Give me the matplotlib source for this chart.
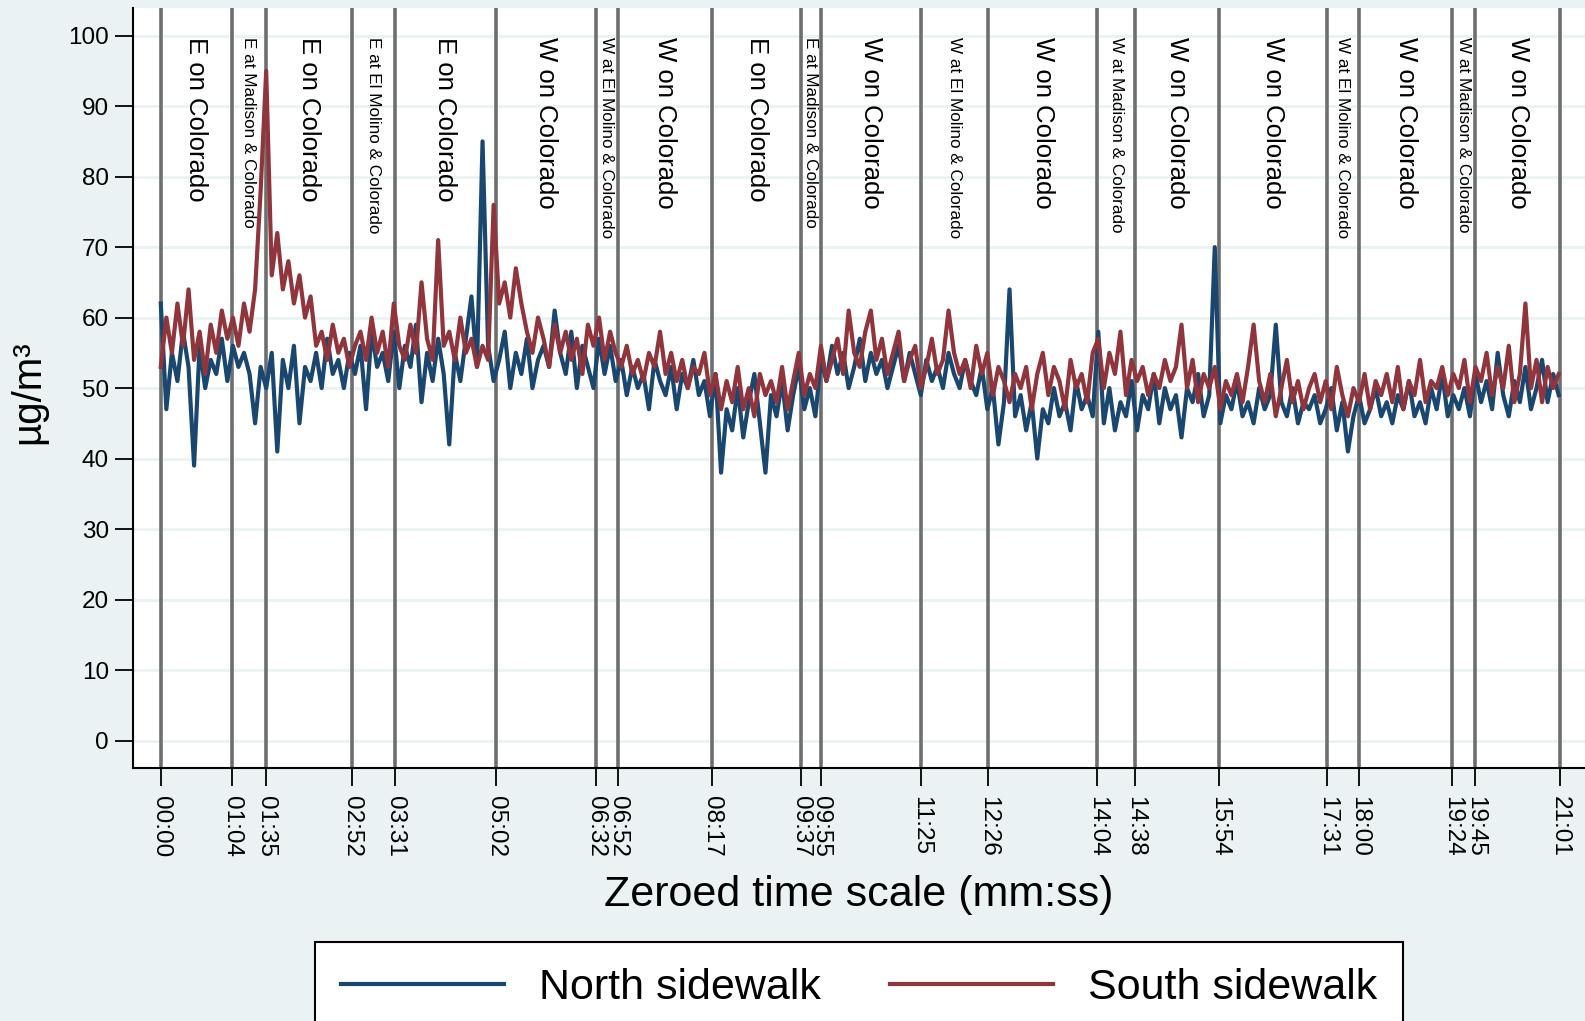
import numpy as np
import matplotlib
matplotlib.use("Agg")
import matplotlib.pyplot as plt

plt.rcParams['font.family'] = ['Liberation Sans', 'DejaVu Sans']

# event times (seconds) and their tick labels
event_secs = [0, 64, 95, 172, 211, 302, 392, 412, 497, 577, 595, 685, 746,
              844, 878, 954, 1051, 1080, 1164, 1185, 1261]
event_labels = ["00:00", "01:04", "01:35", "02:52", "03:31", "05:02", "06:32",
                "06:52", "08:17", "09:37", "09:55", "11:25", "12:26", "14:04",
                "14:38", "15:54", "17:31", "18:00", "19:24", "19:45", "21:01"]

# what the walker was doing between two events
segments = ["E on Colorado", "E at Madison & Colorado", "E on Colorado",
            "E at El Molino & Colorado", "E on Colorado", "W on Colorado",
            "W at El Molino & Colorado", "W on Colorado", "E on Colorado",
            "E at Madison & Colorado", "W on Colorado", "W at El Molino & Colorado",
            "W on Colorado", "W at Madison & Colorado", "W on Colorado",
            "W on Colorado", "W at El Molino & Colorado", "W on Colorado",
            "W at Madison & Colorado", "W on Colorado"]

# PM readings, one every 5 s
north = [62, 47, 55, 51, 58, 53, 39, 56, 50, 54, 52, 57, 51,
         56, 53, 55, 52, 45, 53, 50, 55, 41, 54, 50, 56, 45,
         53, 51, 55, 50, 57, 52, 54, 50, 55, 52, 56, 47, 58,
         53, 55, 51, 58, 50, 56, 53, 59, 48, 55, 51, 57, 52,
         42, 55, 51, 57, 63, 53, 85, 56, 51, 54, 58, 50, 55,
         52, 57, 50, 54, 56, 53, 61, 55, 52, 58, 50, 56, 53,
         50, 57, 52, 56, 51, 54, 49, 53, 50, 52, 47, 54, 51,
         49, 53, 47, 52, 50, 54, 49, 51, 46, 52, 38, 47, 44,
         50, 43, 48, 52, 45, 38, 49, 46, 51, 44, 49, 53, 47,
         50, 46, 54, 51, 56, 52, 55, 50, 53, 57, 51, 55, 52,
         54, 50, 53, 56, 51, 55, 52, 49, 54, 51, 53, 50, 55,
         52, 50, 54, 51, 49, 53, 47, 50, 42, 48, 64, 46, 49,
         44, 48, 40, 47, 45, 50, 46, 48, 44, 51, 47, 49, 46,
         58, 45, 50, 44, 48, 46, 51, 44, 49, 47, 52, 45, 50,
         47, 49, 43, 50, 48, 52, 46, 49, 70, 45, 49, 47, 51,
         46, 48, 45, 50, 47, 49, 59, 48, 46, 50, 45, 48, 47,
         49, 45, 47, 50, 44, 48, 41, 46, 49, 45, 47, 50, 46,
         48, 45, 49, 47, 51, 46, 48, 45, 50, 47, 52, 46, 49,
         47, 50, 46, 52, 48, 51, 47, 55, 49, 46, 51, 48, 53,
         47, 50, 54, 48, 52, 49]

south = [53, 60, 55, 62, 56, 64, 54, 58, 52, 59, 55, 61, 57,
         60, 56, 62, 58, 64, 78, 95, 66, 72, 64, 68, 62, 66,
         60, 63, 56, 58, 54, 59, 55, 57, 53, 56, 58, 54, 60,
         55, 58, 53, 62, 56, 54, 59, 55, 65, 57, 54, 71, 56,
         58, 54, 60, 55, 57, 53, 56, 54, 76, 62, 65, 60, 67,
         62, 58, 55, 60, 57, 53, 59, 55, 58, 54, 57, 52, 59,
         56, 60, 54, 58, 55, 53, 56, 52, 54, 51, 55, 53, 58,
         52, 55, 51, 54, 50, 53, 52, 55, 49, 52, 47, 51, 48,
         53, 47, 50, 46, 52, 49, 51, 48, 53, 47, 51, 55, 49,
         52, 50, 56, 51, 54, 57, 52, 61, 55, 53, 58, 61, 54,
         57, 52, 55, 58, 51, 54, 56, 50, 53, 57, 52, 54, 61,
         55, 52, 54, 50, 56, 52, 55, 49, 53, 51, 48, 52, 50,
         53, 47, 52, 55, 49, 53, 51, 47, 54, 50, 52, 48, 55,
         57, 50, 55, 52, 58, 49, 54, 51, 53, 49, 52, 50, 54,
         51, 53, 59, 50, 54, 48, 52, 50, 53, 47, 51, 49, 52,
         48, 53, 59, 51, 48, 52, 46, 50, 54, 48, 51, 47, 50,
         52, 48, 51, 47, 53, 49, 46, 50, 48, 52, 47, 51, 49,
         52, 48, 53, 47, 51, 49, 54, 48, 51, 50, 53, 49, 52,
         50, 54, 48, 53, 51, 55, 49, 53, 50, 56, 48, 52, 62,
         50, 54, 48, 53, 50, 52]

BG = '#EAF2F3'
NAVY = '#1A476F'
MAROON = '#90353B'

t = np.arange(len(north)) * 5

fig = plt.figure(figsize=(15.85, 10.21), dpi=100, facecolor=BG)
ax = fig.add_axes([0.0836, 0.2478, 1 - 0.0836, 0.992 - 0.2478])
ax.set_facecolor('white')

for v in range(0, 101, 10):
    ax.axhline(v, color=BG, lw=2, zorder=0)

for s in event_secs:
    ax.axvline(s, color='#6E6E6E', lw=2.6, zorder=1)

ax.plot(t, north, color=NAVY, lw=3, zorder=2, label='North sidewalk')
ax.plot(t, south, color=MAROON, lw=3, zorder=3, label='South sidewalk')

for i, name in enumerate(segments):
    mid = (event_secs[i] + event_secs[i + 1]) / 2
    size = 18.5 if ' on ' in name else 12.3
    ax.text(mid, 99.8, name, rotation=270, ha='center', va='top',
            fontsize=size, zorder=4)

ax.set_xlim(-25.5, 1283.7)
ax.set_ylim(-3.9, 103.9)
ax.set_yticks(range(0, 101, 10))
ax.set_xticks(event_secs)
ax.set_xticklabels(event_labels, rotation=270, va='top', ha='center')
ax.tick_params(axis='both', length=13, width=1.3, labelsize=17.5, direction='out')
ax.tick_params(axis='x', pad=7)
ax.tick_params(axis='y', pad=4)

for side in ['top', 'right']:
    ax.spines[side].set_visible(False)
ax.spines['left'].set_linewidth(1.5)
ax.spines['bottom'].set_linewidth(1.5)

ax.set_xlabel('Zeroed time scale (mm:ss)', fontsize=31, va='center')
ax.xaxis.set_label_coords(0.5, -0.1666)
fig.text(0.0179, 0.616, 'µg/m³', rotation=90, ha='center', va='center', fontsize=29)

leg = ax.legend(loc='upper center', bbox_to_anchor=(0.5, -0.229), ncol=2,
                fontsize=31, handlelength=3.8, columnspacing=1.6,
                frameon=True, fancybox=False, framealpha=1,
                borderpad=0.6, borderaxespad=0)
leg.get_frame().set_edgecolor('black')
leg.get_frame().set_linewidth(1.5)

fig.savefig('out.png', dpi=100, facecolor=BG)
